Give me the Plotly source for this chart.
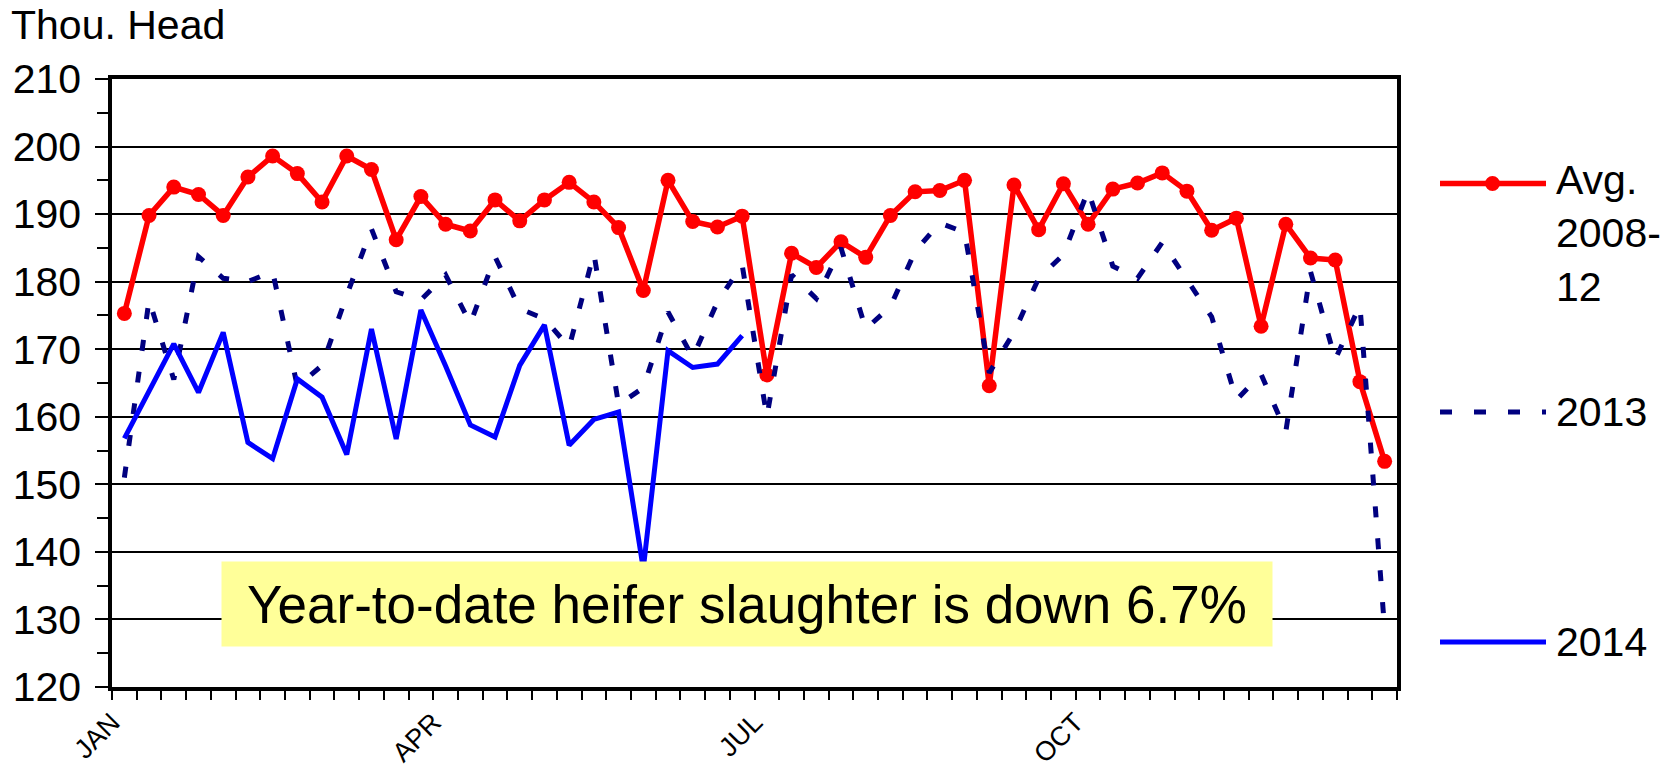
"""Weekly heifer slaughter: 2008-12 average vs 2013 vs 2014 (Plotly)."""
import plotly.graph_objects as go

# ---- data (thousand head, weekly) ----
WEEKS = list(range(1, 53))
# month labels sit on the tick mark that opens weeks 1, 14, 27 and 40
MONTH_TICKS = [0.5, 13.5, 26.5, 39.5]
MONTH_LABELS = ["JAN", "APR", "JUL", "OCT"]

AVG_2008_12 = [
    175.3, 189.8, 194.0, 192.9, 189.8, 195.5, 198.6, 196.0, 191.8, 198.6,
    196.6, 186.2, 192.6, 188.5, 187.5, 192.1, 189.0, 192.1, 194.7, 191.8,
    188.0, 178.7, 195.0, 188.9, 188.1, 189.7, 166.2, 184.2, 182.1, 185.9,
    183.6, 189.8, 193.3, 193.5, 195.0, 164.6, 194.3, 187.7, 194.5, 188.5,
    193.7, 194.6, 196.1, 193.4, 187.6, 189.4, 173.4, 188.5, 183.5, 183.2,
    165.2, 153.4,
]
Y2013 = [
    151.0, 177.3, 165.5, 183.7, 180.5, 180.0, 181.5, 164.5, 167.6, 178.0,
    187.8, 178.5, 177.3, 181.0, 173.8, 183.7, 176.0, 174.5, 170.3, 184.2,
    161.8, 164.3, 175.5, 168.8, 177.0, 182.5, 160.0, 181.0, 177.5, 185.0,
    173.0, 176.3, 184.5, 188.7, 187.3, 166.5, 172.5, 180.5, 184.0, 193.5,
    182.3, 180.5, 185.8, 180.3, 174.8, 162.5, 166.3, 157.8, 181.5, 168.5,
    176.5, 128.5,
]
Y2014 = [
    156.8, 163.8, 170.8, 163.6, 172.5, 156.2, 153.8, 165.6, 162.9, 154.4,
    173.0, 156.7, 175.8, 167.5, 158.8, 157.0, 167.6, 173.6, 155.8, 159.6,
    160.7, 137.5, 169.8, 167.3, 167.8, 172.0,
]

RED = "#ff0000"
NAVY = "#000080"
BLUE = "#0000ff"
YELLOW = "#ffff99"
FONT = "Liberation Sans, Arial, Helvetica, sans-serif"

W, H = 1679, 772
PLOT_L, PLOT_R, PLOT_T, PLOT_B = 112, 1397, 79, 687


def px_x(px):
    return (px - PLOT_L) / (PLOT_R - PLOT_L)


def px_y(py):
    return (PLOT_B - py) / (PLOT_B - PLOT_T)


fig = go.Figure()
fig.add_trace(go.Scatter(
    x=WEEKS, y=AVG_2008_12, mode="lines+markers", name="Avg. 2008-12",
    line=dict(color=RED, width=5.5), marker=dict(color=RED, size=15),
))
fig.add_trace(go.Scatter(
    x=WEEKS, y=Y2013, mode="lines", name="2013",
    line=dict(color=NAVY, width=5, dash="11px,21px"),
))
fig.add_trace(go.Scatter(
    x=WEEKS[:len(Y2014)], y=Y2014, mode="lines", name="2014",
    line=dict(color=BLUE, width=5),
))

# legend key drawn by hand (long line samples, spaced like the original)
key_x0, key_x1 = 1440, 1546
keys = [
    ("Avg.<br>2008-<br>12", 183.5, 233, dict(color=RED, width=5.5)),
    ("2013", 412, 412, dict(color=NAVY, width=5, dash="12px,22px")),
    ("2014", 642, 642, dict(color=BLUE, width=5)),
]
for text, line_y, text_y, line in keys:
    fig.add_shape(type="line", xref="paper", yref="paper",
                  x0=px_x(key_x0), x1=px_x(key_x1), y0=px_y(line_y), y1=px_y(line_y),
                  line=line)
    fig.add_annotation(xref="paper", yref="paper", x=px_x(1554), y=px_y(text_y),
                       xanchor="left", yanchor="middle", align="left", showarrow=False,
                       text=text, font=dict(family=FONT, size=41, color="black"))
fig.add_shape(type="circle", xref="paper", yref="paper", fillcolor=RED, line=dict(width=0),
              x0=px_x(1485), x1=px_x(1500), y0=px_y(191), y1=px_y(176))

fig.add_annotation(xref="paper", yref="paper", x=px_x(9), y=px_y(25.5),
                   xanchor="left", yanchor="middle", showarrow=False,
                   text="Thou. Head", font=dict(family=FONT, size=41, color="black"))

fig.add_annotation(xref="paper", yref="paper", x=px_x(747), y=px_y(604),
                   xanchor="center", yanchor="middle", showarrow=False,
                   width=1050, height=84, borderpad=0, bgcolor=YELLOW,
                   text="Year-to-date heifer slaughter is down 6.7%",
                   font=dict(family=FONT, size=53, color="black"))

fig.update_layout(
    width=W, height=H,
    paper_bgcolor="white", plot_bgcolor="white",
    margin=dict(l=PLOT_L, r=W - PLOT_R, t=PLOT_T, b=H - PLOT_B),
    showlegend=False,
    font=dict(family=FONT, color="black"),
)
fig.update_xaxes(
    range=[0.5, 52.5], tickvals=MONTH_TICKS, ticktext=MONTH_LABELS,
    tickangle=-45, ticks="", ticklabelstandoff=5, automargin=False,
    tickfont=dict(family=FONT, size=27, color="black"),
    minor=dict(ticks="outside", tick0=0.5, dtick=1, ticklen=9, tickwidth=2, tickcolor="black"),
    showgrid=False, zeroline=False,
    showline=True, linecolor="black", linewidth=3.5, mirror=True,
)
fig.update_yaxes(
    range=[120, 210], dtick=10, ticks="outside", ticklen=13, tickwidth=2, tickcolor="black",
    ticklabelstandoff=6, automargin=False,
    tickfont=dict(family=FONT, size=41, color="black"),
    minor=dict(ticks="outside", dtick=5, ticklen=11, tickwidth=2, tickcolor="black", showgrid=False),
    showgrid=True, gridcolor="black", gridwidth=1.5, zeroline=False,
    showline=True, linecolor="black", linewidth=3.5, mirror=True,
)

# drop the browser's default body margin so the figure sits at the page origin
fig.write_html("out.html", config={"displayModeBar": False},
               post_script="document.body.style.margin = '0';")
